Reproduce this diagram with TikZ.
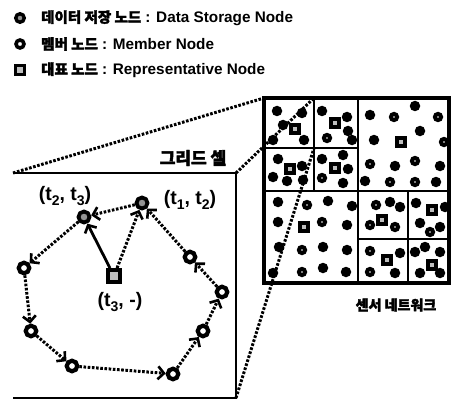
\documentclass[tikz,border=0pt]{standalone}
\usepackage{fontspec}
\setmainfont{Liberation Sans}
\newfontfamily\kr{Noto Sans CJK KR}[FakeBold=2.2]
\usetikzlibrary{arrows.meta}
\newcommand{\sbs}[1]{\raisebox{-0.26em}{\fontsize{14}{14}\selectfont #1}}
\newcommand{\krl}[1]{{\kr\fontsize{14.5}{16}\selectfont #1}}
\begin{document}
\begin{tikzpicture}[x=1pt,y=-1pt,
  dsnode/.style={circle, draw, line width=3.8pt, fill=gray!85, minimum size=11pt, inner sep=0pt},
  member/.style={circle, draw, line width=4.2pt, fill=white, minimum size=10.5pt, inner sep=0pt},
  rep/.style={rectangle, draw, line width=3.8pt, fill=gray!50, minimum size=12pt, inner sep=0pt},
  lgds/.style={circle, draw, line width=3.4pt, fill=gray!85, minimum size=8.5pt, inner sep=0pt},
  lgmem/.style={circle, draw, line width=3.6pt, fill=white, minimum size=8pt, inner sep=0pt},
  lgrep/.style={rectangle, draw, line width=3.4pt, fill=gray!50, minimum size=9pt, inner sep=0pt},
  sd/.style={circle, fill=black, minimum size=10.5pt, inner sep=0pt},
  wd/.style={sd, path picture={\fill[white] (path picture bounding box.center) circle (0.9pt);}},
  nr/.style={rectangle, draw, line width=3.6pt, fill=gray!50, minimum size=8.5pt, inner sep=0pt},
  txt/.style={font=\bfseries\fontsize{15.3}{17}\selectfont, inner sep=0pt},
  lbl/.style={font=\bfseries\fontsize{19.5}{21}\selectfont, inner sep=0pt},
  dots/.style={line width=3pt, dash pattern=on 2.6pt off 1.6pt},
  arr/.style={-{Straight Barb[length=6pt,width=13pt,line width=2.6pt]}},
  zoomline/.style={line width=3pt, dash pattern=on 2.6pt off 1.6pt}
]
\useasboundingbox (0,0) rectangle (452,401);

% ---------- legend ----------
\node[lgds] (l1) at (20,18) {};
\node[txt, anchor=west] (t1) at (41,18) {\krl{데이터 저장 노드} : Data Storage Node};
\node[lgmem] (l2) at (20,44) {};
\node[txt, anchor=west] (t2) at (41,44) {\krl{멤버 노드} : Member Node};
\node[lgrep] (l3) at (20,70) {};
\node[txt, anchor=west] (t3) at (41,70) {\krl{대표 노드} : Representative Node};

% ---------- sensor network ----------
\coordinate (nTL) at (264,98);
\coordinate (nBR) at (449,283);
% top-left quadrant
\node[sd] (a1) at (277,111) {};
\node[sd] (a2) at (302,113) {};
\node[sd] (a3) at (283,125) {};
\node[sd] (a4) at (304,140) {};
\node[sd] (a5) at (273,140) {};
\node[nr] (ar) at (295,129) {};
\node[sd] (b1) at (322,111) {};
\node[sd] (b2) at (347,117) {};
\node[sd] (b3) at (348,131) {};
\node[sd] (b4) at (352,140) {};
\node[wd] (b5) at (327,138) {};
\node[nr] (br) at (335,123) {};
\node[sd] (c1) at (278,159) {};
\node[sd] (c2) at (302,166) {};
\node[sd] (c3) at (273,177) {};
\node[sd] (c4) at (287,181) {};
\node[sd] (c5) at (303,180) {};
\node[nr] (cr) at (290,169) {};
\node[sd] (d1) at (322,159) {};
\node[sd] (d2) at (343,155) {};
\node[sd] (d3) at (348,169) {};
\node[sd] (d4) at (343,183) {};
\node[wd] (d5) at (322,178) {};
\node[nr] (dr) at (335,168) {};
% top-right quadrant
\node[sd] (e1) at (370,115) {};
\node[wd] (e2) at (394,117) {};
\node[sd] (e3) at (415,106) {};
\node[wd] (e4) at (438,117) {};
\node[sd] (e5) at (420,131) {};
\node[wd] (e6) at (444,142) {};
\node[sd] (e7) at (374,140) {};
\node[wd] (e8) at (370,164) {};
\node[sd] (e9) at (395,166) {};
\node[wd] (e10) at (415,161) {};
\node[sd] (e11) at (440,166) {};
\node[sd] (e12) at (365,181) {};
\node[wd] (e13) at (390,182) {};
\node[wd] (e14) at (415,182) {};
\node[sd] (e15) at (436,182) {};
\node[nr] (er) at (401,142) {};
% bottom-left quadrant
\node[sd] (f1) at (278,202) {};
\node[wd] (f2) at (307,205) {};
\node[sd] (f3) at (328,201) {};
\node[sd] (f4) at (352,206) {};
\node[sd] (f5) at (278,222) {};
\node[wd] (f6) at (322,222) {};
\node[sd] (f7) at (347,225) {};
\node[sd] (f8) at (279,247) {};
\node[wd] (f9) at (302,250) {};
\node[sd] (f10) at (323,247) {};
\node[sd] (f11) at (347,250) {};
\node[sd] (f12) at (273,273) {};
\node[wd] (f13) at (302,272) {};
\node[sd] (f14) at (323,268) {};
\node[sd] (f15) at (346,272) {};
\node[nr] (fr) at (304,227) {};
% bottom-right quadrant
\node[wd] (g1) at (376,205) {};
\node[sd] (g2) at (390,202) {};
\node[sd] (g3) at (400,207) {};
\node[wd] (g4) at (370,225) {};
\node[wd] (g5) at (395,227) {};
\node[nr] (gr) at (382,220) {};
\node[sd] (h1) at (416,203) {};
\node[sd] (h2) at (445,207) {};
\node[sd] (h3) at (420,223) {};
\node[wd] (h4) at (430,232) {};
\node[sd] (h5) at (440,227) {};
\node[nr] (hr) at (432,210) {};
\node[wd] (i1) at (370,251) {};
\node[sd] (i2) at (400,253) {};
\node[wd] (i3) at (370,272) {};
\node[sd] (i4) at (395,273) {};
\node[nr] (ir) at (387,260) {};
\node[sd] (j1) at (415,252) {};
\node[sd] (j2) at (425,247) {};
\node[sd] (j3) at (440,252) {};
\node[sd] (j4) at (420,273) {};
\node[sd] (j5) at (440,273) {};
\node[nr] (jr) at (432,265) {};
% grid lines
\draw[line width=2.4pt] (358,98) -- (358,283);
\draw[line width=2.4pt] (264,191) -- (449,191);
\draw[line width=2.4pt] (314,98) -- (314,191);
\draw[line width=2.4pt] (264,148) -- (358,148);
\draw[line width=2.4pt] (408,191) -- (408,283);
\draw[line width=2.4pt] (358,239) -- (449,239);
\draw[line width=4.6pt] (nTL) rectangle (nBR);
\coordinate (sTR) at (314,98);
\coordinate (sBR) at (314,148);
\node[inner sep=0pt, font=\kr\bfseries\fontsize{14}{16}\selectfont] (netlbl) at (396,305) {센서 네트워크};

% ---------- grid cell ----------
\coordinate (gTL) at (13,173);
\coordinate (gTR) at (236,173);
\coordinate (gBR) at (236,398);
\coordinate (gBL) at (13,398);
\draw[line width=2.8pt] (gTL) -- (gTR) -- (gBR) -- (gBL);
\node[inner sep=0pt, font=\kr\bfseries\fontsize{17}{19}\selectfont] (celllbl) at (193,158) {그리드 셀};

% zoom lines
\draw[zoomline] (gTL) -- (nTL);
\draw[zoomline] (gTR) -- (sTR);
\draw[zoomline] (gBR) -- (sBR);

% nodes in the cell
\node[dsnode] (A) at (84,217) {};
\node[dsnode] (B) at (142,203) {};
\node[rep] (R) at (114,276) {};
\node[member] (m1) at (24,268) {};
\node[member] (m2) at (31,331) {};
\node[member] (m3) at (72,366) {};
\node[member] (m4) at (173,374) {};
\node[member] (m5) at (203,331) {};
\node[member] (m6) at (222,292) {};
\node[member] (m7) at (190,257) {};

\draw[dots, arr] (B) -- (A);
\draw[dots, arr] (A) -- (m1);
\draw[dots, arr] (m1) -- (m2);
\draw[dots, arr] (m2) -- (m3);
\draw[dots, arr] (m3) -- (m4);
\draw[dots, arr] (m4) -- (m5);
\draw[dots, arr] (m5) -- (m6);
\draw[dots, arr] (m6) -- (m7);
\draw[dots, arr] (m7) -- (B);
\draw[dots, arr] (R) -- (B);
\draw[line width=2.8pt, arr] (R) -- (A);

\node[lbl] (LA) at (65,196) {(t\sbs{2}, t\sbs{3})};
\node[lbl] (LB) at (190,200) {(t\sbs{1}, t\sbs{2})};
\node[lbl] (LR) at (120,302) {(t\sbs{3}, -)};
\end{tikzpicture}
\end{document}
